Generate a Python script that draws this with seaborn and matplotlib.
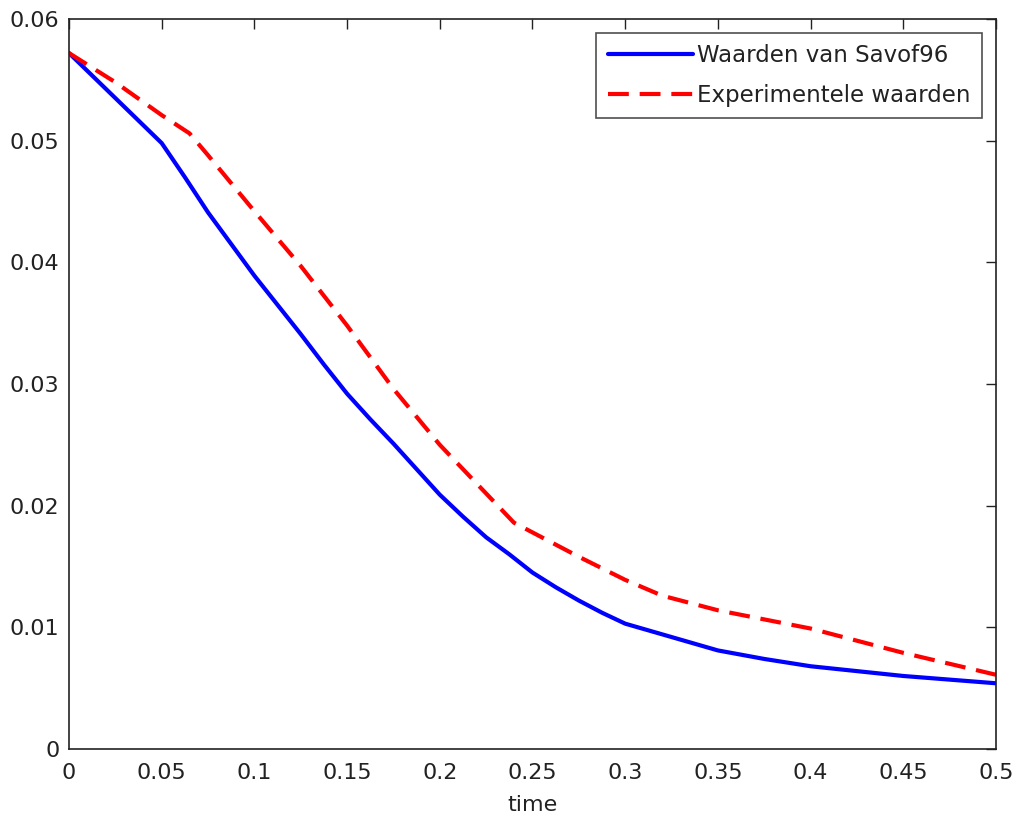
import matplotlib
matplotlib.use("Agg")
import matplotlib.pyplot as plt
import seaborn as sns
import pandas as pd

sns.set_theme(style="white")
plt.rcParams['font.family'] = ['DejaVu Sans']

# Data
t_savof = [0.0, 0.025, 0.05, 0.0625, 0.075, 0.0875, 0.1, 0.1125, 0.125, 0.1375, 0.15,
           0.1625, 0.175, 0.1875, 0.2, 0.2125, 0.225, 0.2375, 0.25, 0.2625, 0.275,
           0.2875, 0.3, 0.325, 0.35, 0.375, 0.4, 0.425, 0.45, 0.475, 0.5]
y_savof = [0.0572, 0.0535, 0.0498, 0.0470, 0.0441, 0.0415, 0.0389, 0.0365, 0.0341,
           0.0316, 0.0292, 0.0271, 0.0251, 0.0230, 0.0209, 0.0191, 0.0174, 0.0160,
           0.0145, 0.0133, 0.0122, 0.0112, 0.0103, 0.0092, 0.0081, 0.0074, 0.0068,
           0.0064, 0.0060, 0.0057, 0.0054]
t_exp = [0.0, 0.025, 0.05, 0.065, 0.075, 0.1, 0.125, 0.15, 0.175, 0.2, 0.225, 0.24,
         0.25, 0.275, 0.3, 0.32, 0.35, 0.4, 0.45, 0.5]
y_exp = [0.0572, 0.0548, 0.0521, 0.0506, 0.0488, 0.0442, 0.0397, 0.0348, 0.0296,
         0.0250, 0.0210, 0.0186, 0.0178, 0.0158, 0.0139, 0.0126, 0.0114, 0.0099,
         0.0079, 0.0061]
labels = ["Waarden van Savof96", "Experimentele waarden"]

df = pd.concat([
    pd.DataFrame({"time": t_savof, "value": y_savof, "series": labels[0]}),
    pd.DataFrame({"time": t_exp, "value": y_exp, "series": labels[1]}),
])

fig = plt.figure(figsize=(10.16, 8.19), dpi=100)
ax = fig.add_axes([0.0679, 0.0855, 0.9124, 0.8913])

sns.lineplot(data=df, x="time", y="value", hue="series", style="series",
             palette={labels[0]: "#0000ff", labels[1]: "#ff0000"},
             dashes={labels[0]: "", labels[1]: (5, 2.6)},
             linewidth=3, sort=False, estimator=None, ax=ax)

ax.set_xlim(0, 0.5)
ax.set_ylim(0, 0.06)
ax.set_xticks([0, 0.05, 0.1, 0.15, 0.2, 0.25, 0.3, 0.35, 0.4, 0.45, 0.5])
ax.set_xticklabels(["0", "0.05", "0.1", "0.15", "0.2", "0.25", "0.3", "0.35", "0.4", "0.45", "0.5"])
ax.set_yticks([0, 0.01, 0.02, 0.03, 0.04, 0.05, 0.06])
ax.set_yticklabels(["0", "0.01", "0.02", "0.03", "0.04", "0.05", "0.06"])
ax.tick_params(direction="in", length=7.5, width=1, top=True, right=True,
               labelsize=16, colors="#222222")
ax.tick_params(axis="x", pad=10)
ax.tick_params(axis="y", pad=7)
for s in ax.spines.values():
    s.set_color("#222222")
    s.set_linewidth(1.2)
ax.set_xlabel("time", fontsize=16, labelpad=9, color="#222222")
ax.set_ylabel("")

leg = ax.legend(loc="upper right", fontsize=16.5, frameon=True, fancybox=False,
                edgecolor="#222222", handlelength=3.7, borderpad=0.5,
                labelspacing=0.72, handletextpad=0.2, borderaxespad=0.6)
leg.get_frame().set_linewidth(1.2)
for txt in leg.get_texts():
    txt.set_color("#222222")

fig.savefig("out.png", dpi=100)
